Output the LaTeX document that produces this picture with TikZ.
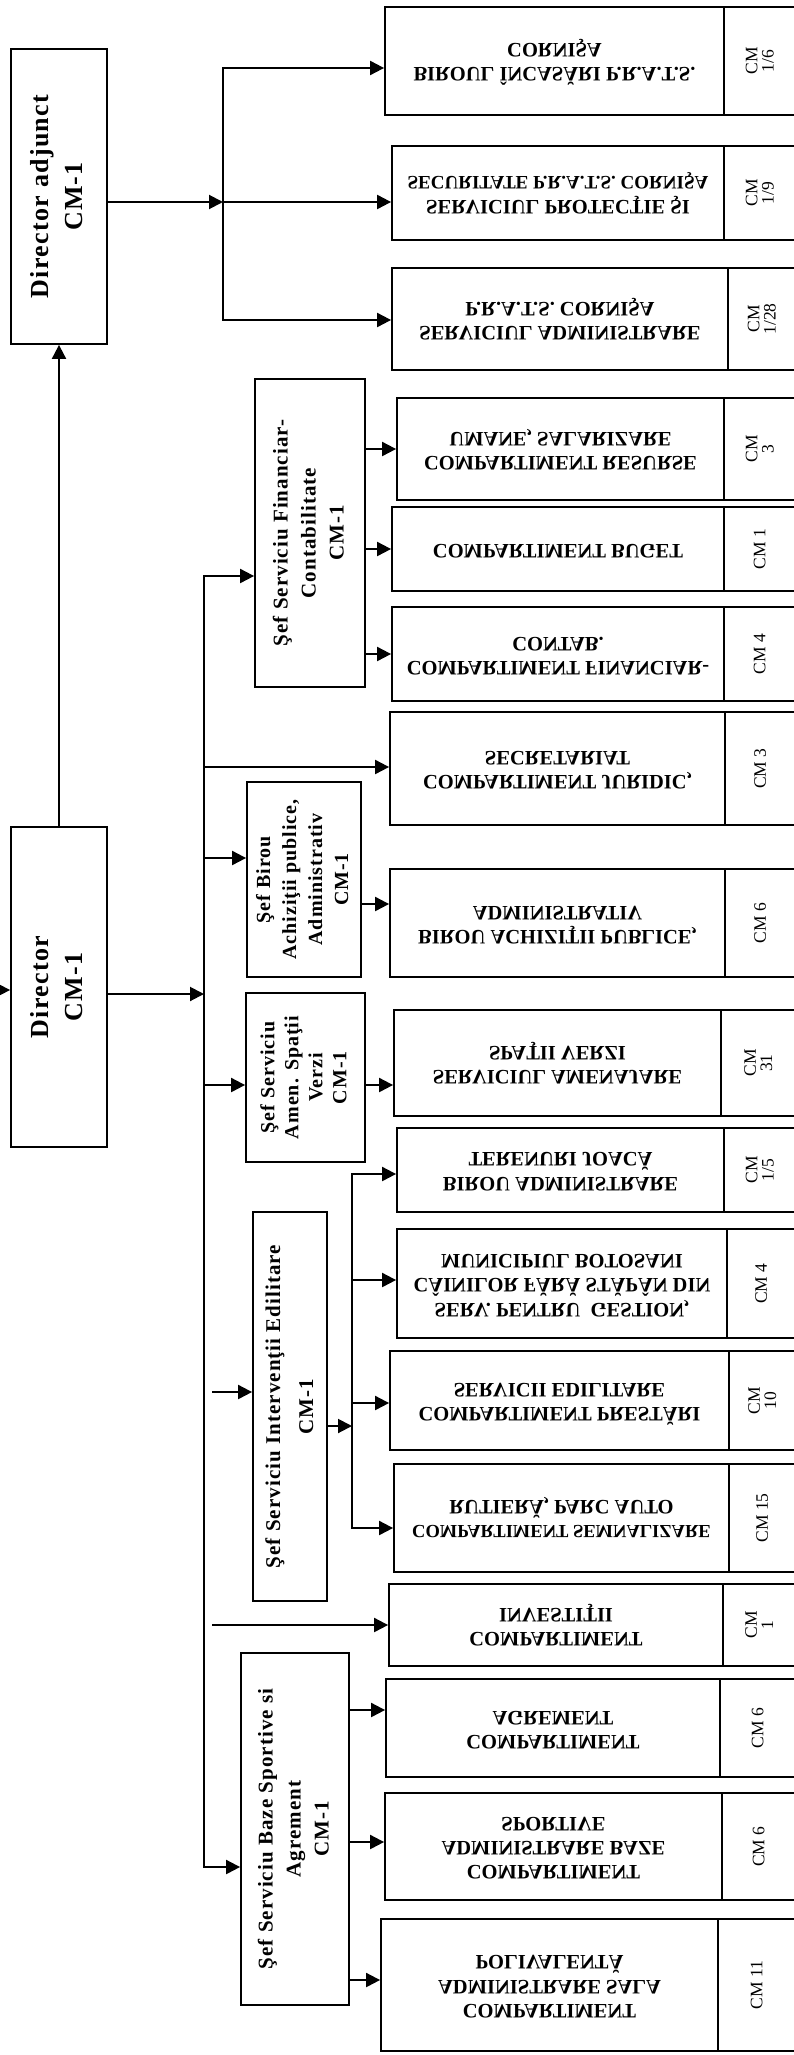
\documentclass[tikz,border=0pt]{standalone}
\usepackage{fontspec}
\setmainfont{Liberation Serif}
\newfontfamily\widebf[LetterSpace=5]{Liberation Serif}
\usepackage{graphicx}
\usetikzlibrary{arrows.meta}
\def\uprot#1{\rotatebox{90}{\begin{tabular}{@{}c@{}}#1\end{tabular}}}
\def\flipped#1{\scalebox{1}[-1]{\begin{tabular}{@{}c@{}}#1\end{tabular}}}
\def\dept(#1)(#2,#3,#4,#5)#6#7{%
	\node[deptbox, minimum width=#5pt-#2pt, minimum height=#4pt-#3pt] (#1) at ({(#2+#5)/2},{(#3+#4)/2}) {\flipped{#6}};
	\node[cmbox, minimum width=800pt-#5pt, minimum height=#4pt-#3pt] (#1cm) at ({(#5+800)/2},{(#3+#4)/2}) {\uprot{#7}\hspace{15pt}};}
\tikzset{
	deptbox/.style={draw, line width=1.8pt, inner sep=0pt, font=\bfseries\fontsize{20.5}{24}\selectfont},
	cmbox/.style={draw, line width=1.8pt, inner sep=0pt, font=\fontsize{17.5}{15.5}\selectfont},
	chief/.style={draw, line width=1.8pt, inner sep=0pt, font=\widebf\bfseries\fontsize{21}{28}\selectfont},
	dirbox/.style={chief, font=\widebf\bfseries\fontsize{26}{34}\selectfont},
	link/.style={line width=2pt},
	arr/.style={link, ->},
}

\begin{document}
\begin{tikzpicture}[x=1pt, y=-1pt, >={Triangle[length=14pt,width=14pt]}]
				\useasboundingbox (0,0) rectangle (794,2055);
				
				\node[dirbox, minimum width=96pt, minimum height=295pt] (adj) at (59,196.5) {\uprot{Director adjunct\\CM-1}};
				\node[dirbox, minimum width=96pt, minimum height=320pt] (dir) at (59,987) {\uprot{Director\\CM-1}};
				
				\node[chief, minimum width=110pt, minimum height=308pt] (sf) at (310,533) {\uprot{Şef Serviciu Financiar-\\Contabilitate\\CM-1}};
				\node[chief, minimum width=114pt, minimum height=195pt, font=\widebf\bfseries\fontsize{20}{26}\selectfont] (sa) at (304,879.5) {\uprot{Şef Birou\\Achiziţii publice,\\Administrativ\\CM-1}};
				\node[chief, minimum width=119pt, minimum height=169pt, font=\widebf\bfseries\fontsize{20}{24}\selectfont] (sm) at (305.5,1077.5) {\uprot{Şef Serviciu\\Amen. Spaţii\\Verzi\\CM-1}};
				\node[chief, minimum width=74pt, minimum height=389pt, font=\widebf\bfseries\fontsize{21}{33}\selectfont] (si) at (290,1406.5) {\uprot{Şef Serviciu Intervenţii Edilitare\\CM-1}};
				\node[chief, minimum width=108pt, minimum height=352pt] (sb) at (295,1829) {\uprot{Şef Serviciu Baze Sportive si\\Agrement\\CM-1}};
				
				\dept(b1)(385,7,115,724){BIROUL ÎNCASĂRI P.R.A.T.S.\\CORNIŞA}{CM\\1/6}
				\dept(b2)(392,146,240,724){SERVICIUL PROTECŢIE ŞI\\{\fontsize{19}{23}\selectfont SECURITATE P.R.A.T.S. CORNIŞA}}{CM\\1/9}
				\dept(b3)(392,268,370,728){SERVICIUL ADMINISTRARE\\P.R.A.T.S. CORNIŞA}{CM\\1/28}
				\dept(b4)(397,398,500,724){COMPARTIMENT RESURSE\\UMANE, SALARIZARE}{CM\\3}
				\dept(b5)(392,507,591,724){COMPARTIMENT BUGET}{CM 1}
				\dept(b6)(392,607,701,724){COMPARTIMENT FINANCIAR-\\CONTAB.}{CM 4}
				\dept(b7)(390,712,825,725){COMPARTIMENT JURIDIC,\\SECRETARIAT}{CM 3}
				\dept(b8)(390,869,977,725){BIROU ACHIZIŢII PUBLICE,\\ADMINISTRATIV}{CM 6}
				\dept(b9)(394,1010,1116,721){SERVICIUL AMENAJARE\\SPAŢII VERZI}{CM\\31}
				\dept(b10)(397,1128,1212,724){BIROU ADMINISTRARE\\TERENURI JOACĂ}{CM\\1/5}
				\dept(b11)(397,1229,1338,727){SERV. PENTRU\ \ GESTION,\\CÂINILOR FĂRĂ STĂPÂN DIN\\MUNICIPIUL BOTOSANI}{CM 4}
				\dept(b12)(390,1351,1450,729){COMPARTIMENT PRESTĂRI\\SERVICII EDILITARE}{CM\\10}
				\dept(b13)(394,1464,1572,729){{\fontsize{18.5}{22}\selectfont COMPARTIMENT SEMNALIZARE}\\RUTIERĂ, PARC AUTO}{CM 15}
				\dept(b14)(389,1584,1666,723){COMPARTIMENT\\INVESTIŢII}{CM\\1}
				\dept(b15)(386,1679,1777,720){COMPARTIMENT\\AGREMENT}{CM 6}
				\dept(b16)(385,1793,1900,722){COMPARTIMENT\\ADMINISTRARE BAZE\\SPORTIVE}{CM 6}
				\dept(b17)(381,1919,2051,718){COMPARTIMENT\\ADMINISTRARE SALA\\POLIVALENTĂ}{CM 11}
				
				\coordinate (boss) at (-2,990);
				\draw[arr] (boss) -- (dir.west |- boss);
				\draw[arr] (dir.north) -- (adj.south);
				
				\coordinate (ah1) at (223,68);
				\coordinate (ah2) at (223,202);
				\coordinate (ah3) at (223,320);
				\draw[link,<->] (b1.west |- ah1) -| (ah3) -- (b3.west |- ah3);
				\draw[arr] (adj.east |- ah2) -- (ah2);
				\draw[arr] (ah2) -- (b2.west |- ah2);
				
				\coordinate (h0) at (204,576);
				\coordinate (h1) at (204,767);
				\coordinate (h2) at (204,858);
				\coordinate (hd) at (204,994);
				\coordinate (h3) at (204,1085);
				\coordinate (h4) at (212,1392);
				\coordinate (h5) at (212,1625);
				\coordinate (h6) at (204,1867);
				\draw[link,<->] (sf.west |- h0) -| (h6) -- (sb.west |- h6);
				\draw[arr] (h1) -- (b7.west |- h1);
				\draw[arr] (h2) -- (sa.west |- h2);
				\draw[arr] (dir.east |- hd) -- (hd);
				\draw[arr] (h3) -- (sm.west |- h3);
				\draw[arr] (h4) -- (si.west |- h4);
				\draw[arr] (h5) -- (b14.west |- h5);
				
				\draw[arr] (sf.east |- b4.west) -- (b4.west);
				\draw[arr] (sf.east |- b5.west) -- (b5.west);
				\draw[arr] (sf.east |- b6.west) -- (b6.west);
				
				\coordinate (a1) at (361,904);
				\draw[arr] (sa.east |- a1) -- (b8.west |- a1);
				\draw[arr] (sm.east |- h3) -- (b9.west |- h3);
				
				\coordinate (s1) at (352,1174);
				\coordinate (s2) at (352,1280);
				\coordinate (s3) at (352,1403);
				\coordinate (s4) at (352,1528);
				\coordinate (sj) at (352,1426);
				\draw[link,<->] (b10.west |- s1) -| (s4) -- (b13.west |- s4);
				\draw[arr] (s2) -- (b11.west |- s2);
				\draw[arr] (s3) -- (b12.west |- s3);
				\draw[arr] (si.east |- sj) -- (sj);
				
				\coordinate (z1) at (349,1710);
				\coordinate (z2) at (349,1842);
				\coordinate (z3) at (349,1980);
				\draw[arr] (sb.east |- z1) -- (b15.west |- z1);
				\draw[arr] (sb.east |- z2) -- (b16.west |- z2);
				\draw[arr] (sb.east |- z3) -- (b17.west |- z3);
			\end{tikzpicture}
\end{document}
